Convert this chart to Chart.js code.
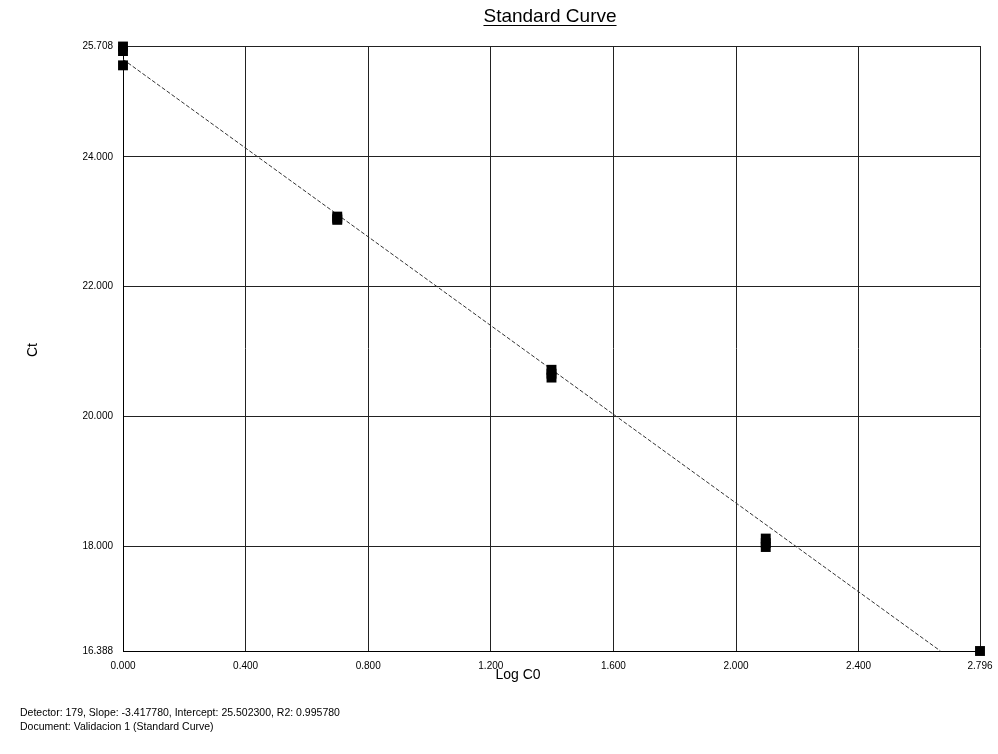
<!DOCTYPE html>
<html>
<head>
<meta charset="utf-8">
<script src="https://cdn.jsdelivr.net/npm/chart.js@4/dist/chart.umd.min.js"></script>
<style>
  html, body { margin: 0; padding: 0; background: #fff; }
  #wrap { position: relative; width: 998px; height: 754px; overflow: hidden; }
  #c { position: absolute; left: 0; top: 0; }
  .txt { position: absolute; color: #000; white-space: nowrap; }
  #title { left: 400px; width: 300px; top: 5px; text-align: center; font: 19px "Liberation Sans", Arial, sans-serif; text-decoration: underline; text-underline-offset: 3px; }
  #xtitle { left: 418px; width: 200px; top: 666px; text-align: center; font: 14px "Liberation Sans", Arial, sans-serif; }
  #ytitle { left: 32px; top: 350px; font: 14px "Liberation Sans", Arial, sans-serif; transform: translate(-50%, -50%) rotate(-90deg); }
  .foot { left: 20px; font: 10.5px "Liberation Sans", Arial, sans-serif; }
</style>
</head>
<body>
<div id="wrap">
  <canvas id="c" width="998" height="754"></canvas>
  <div class="txt" id="title">Standard Curve</div>
  <div class="txt" id="xtitle">Log C0</div>
  <div class="txt" id="ytitle">Ct</div>
  <div class="txt foot" style="top:706px">Detector: 179, Slope: -3.417780, Intercept: 25.502300, R2: 0.995780</div>
  <div class="txt foot" style="top:720px">Document: Validacion 1 (Standard Curve)</div>
</div>
<script>
// Standard points (Log C0 vs Ct), replicates
const logC0 = [0.000, 0.000, 0.000, 0.699, 0.699, 0.699, 1.398, 1.398, 1.398, 2.097, 2.097, 2.097, 2.796];
const ctValues = [25.70, 25.63, 25.41, 23.08, 23.05, 23.03, 20.72, 20.66, 20.60, 18.12, 18.05, 17.99, 16.388];

// Regression line end points (slope -3.41778, intercept 25.5023), clipped at axis min
const fitX = [0.000, 2.667];
const fitY = [25.5023, 16.388];

// Axis tick values
const xTicks = [0.000, 0.400, 0.800, 1.200, 1.600, 2.000, 2.400, 2.796];
const yTicks = [16.388, 18.000, 20.000, 22.000, 24.000, 25.708];

const tickFont = { family: '"Liberation Sans", Arial, sans-serif', size: 10 };

new Chart(document.getElementById('c'), {
  type: 'scatter',
  data: {
    datasets: [
      {
        type: 'line',
        data: fitX.map((x, i) => ({ x: x, y: fitY[i] })),
        borderColor: '#333',
        borderWidth: 1,
        borderDash: [4, 2],
        pointRadius: 0,
        fill: false,
        clip: false,
        order: 2
      },
      {
        type: 'scatter',
        data: logC0.map((x, i) => ({ x: x, y: ctValues[i] })),
        pointStyle: 'rect',
        pointRadius: 7,
        pointBackgroundColor: '#000',
        pointBorderWidth: 0,
        clip: false,
        order: 1
      }
    ]
  },
  options: {
    responsive: false,
    animation: false,
    events: [],
    layout: { padding: { left: 0, right: 18, top: 46, bottom: 73 } },
    plugins: { legend: { display: false }, tooltip: { enabled: false }, title: { display: false } },
    scales: {
      x: {
        type: 'linear',
        min: 0,
        max: 2.796,
        afterBuildTicks: (axis) => { axis.ticks = xTicks.map(v => ({ value: v })); },
        afterFit: (axis) => { axis.height = 30; axis.paddingLeft = 0; axis.paddingRight = 0; },
        grid: { color: '#222', lineWidth: 1, drawTicks: false },
        border: { color: '#000', width: 1 },
        ticks: {
          color: '#000',
          font: tickFont,
          padding: 9,
          maxRotation: 0,
          autoSkip: false,
          callback: (v) => Number(v).toFixed(3)
        }
      },
      y: {
        type: 'linear',
        min: 16.388,
        max: 25.708,
        afterBuildTicks: (axis) => { axis.ticks = yTicks.map(v => ({ value: v })); },
        afterFit: (axis) => { axis.width = 123; axis.paddingTop = 0; axis.paddingBottom = 0; },
        grid: { color: '#222', lineWidth: 1, drawTicks: false },
        border: { color: '#000', width: 1 },
        ticks: {
          color: '#000',
          font: tickFont,
          padding: 10,
          autoSkip: false,
          callback: (v) => Number(v).toFixed(3)
        }
      }
    }
  }
});
</script>
</body>
</html>
